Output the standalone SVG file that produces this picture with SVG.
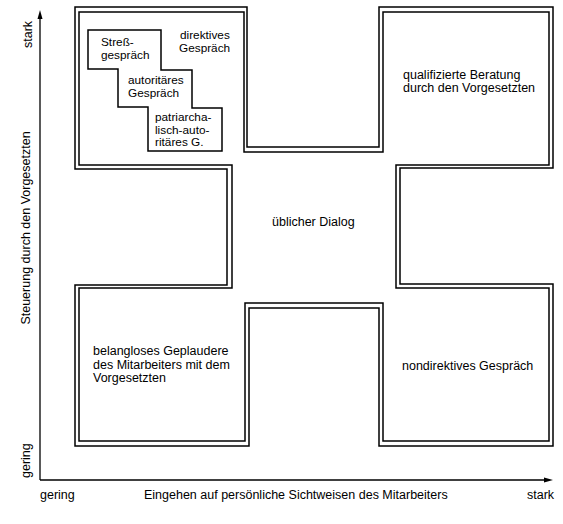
<svg xmlns="http://www.w3.org/2000/svg" width="563" height="524" viewBox="0 0 563 524">
<style>
  text { font-family: "Liberation Sans", Arial, sans-serif; font-size: 12.5px; fill: #000; }
  text.sm { font-size: 11.8px; }
  .ln { fill: none; stroke: #000; stroke-width: 1.5; }
  .ax { fill: none; stroke: #000; stroke-width: 1.3; }
</style>
<rect width="563" height="524" fill="#fff"/>
<g id="outline">
  <polygon class="ln" points="75,7 247,7 247,147 379,147 379,7 553,7 553,168 400,168 400,284 553,284 553,446 379,446 379,308 249,308 249,446 75,446 75,285 227,285 227,169 75,169"/>
  <polygon class="ln" points="79,12 244,12 244,152 383,152 383,12 549,12 549,165 396,165 396,288 549,288 549,441 383,441 383,303 245,303 245,441 79,441 79,288 232,288 232,165 79,165"/>
</g>
<g id="directive-steps">
  <polygon class="ln" points="88,30 161,30 161,70 192,70 192,108 222,108 222,151 148,151 148,107 118,107 118,69 88,69"/>
</g>
<g id="node-stress">
  <text class="sm" x="101" y="45.5">Streß-</text>
  <text class="sm" x="101" y="58.5">gespräch</text>
</g>
<g id="node-direktiv">
  <text class="sm" x="180" y="39">direktives</text>
  <text class="sm" x="179" y="52">Gespräch</text>
</g>
<g id="node-autoritaer">
  <text class="sm" x="128" y="84">autoritäres</text>
  <text class="sm" x="128" y="97">Gespräch</text>
</g>
<g id="node-patriarch">
  <text class="sm" x="155" y="121">patriarcha-</text>
  <text class="sm" x="155" y="133.5">lisch-auto-</text>
  <text class="sm" x="155" y="146">ritäres G.</text>
</g>
<g id="node-beratung">
  <text x="403" y="78.5">qualifizierte Beratung</text>
  <text x="403" y="92">durch den Vorgesetzten</text>
</g>
<g id="node-dialog">
  <text x="272" y="226">üblicher Dialog</text>
</g>
<g id="node-geplauder">
  <text x="93" y="355">belangloses Geplaudere</text>
  <text x="93" y="368.5">des Mitarbeiters mit dem</text>
  <text x="93" y="382">Vorgesetzten</text>
</g>
<g id="node-nondirektiv">
  <text x="402" y="370">nondirektives Gespräch</text>
</g>
<g id="axes">
  <line class="ax" x1="40" y1="14" x2="40" y2="480"/>
  <line class="ax" x1="40" y1="480" x2="546" y2="480"/>
  <polygon points="40,10 37.5,19 42.5,19" fill="#000"/>
  <polygon points="553,480 544,477.5 544,482.5" fill="#000"/>
  <text transform="translate(32,48) rotate(-90)">stark</text>
  <text transform="translate(30,228) rotate(-90)" text-anchor="middle">Steuerung durch den Vorgesetzten</text>
  <text transform="translate(30,478) rotate(-90)">gering</text>
  <text x="40" y="499">gering</text>
  <text x="144" y="499">Eingehen auf persönliche Sichtweisen des Mitarbeiters</text>
  <text x="527" y="499">stark</text>
</g>
</svg>
